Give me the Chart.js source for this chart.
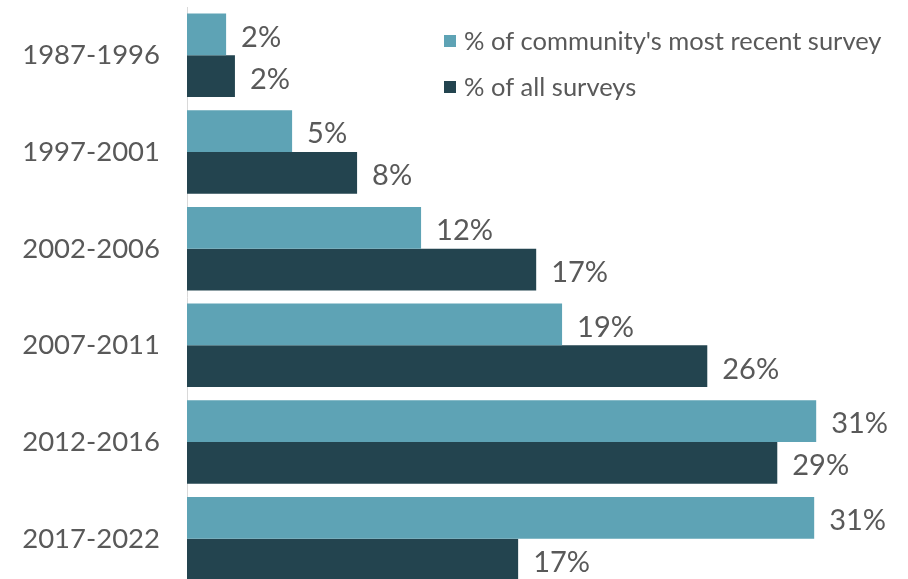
<!DOCTYPE html>
<html>
<head>
<meta charset="utf-8">
<script src="https://cdn.jsdelivr.net/npm/chart.js@4"></script>
<style>
  html, body { margin: 0; padding: 0; background: #ffffff; overflow: hidden; }
  #wrap { position: relative; width: 908px; height: 587px; }
</style>
</head>
<body>
<div id="wrap"><canvas id="c"></canvas></div>
<script>
const categories = ["1987-1996", "1997-2001", "2002-2006", "2007-2011", "2012-2016", "2017-2022"];
const recentSurvey = [1.95, 5.24, 11.67, 18.70, 31.37, 31.27];
const allSurveys = [2.39, 8.48, 17.41, 25.94, 29.43, 16.51];
const seriesNames = ["% of community's most recent survey", "% of all surveys"];
const seriesColors = ["#5ea3b5", "#23444f"];

const textColor = "#595959";
const fontFamily = "Lato, 'Open Sans', sans-serif";

const valueLabels = {
  id: 'valueLabels',
  afterDatasetsDraw(chart) {
    const ctx = chart.ctx;
    ctx.save();
    ctx.font = "29px " + fontFamily;
    ctx.fillStyle = textColor;
    ctx.textAlign = 'left';
    ctx.textBaseline = 'middle';
    chart.data.datasets.forEach((ds, di) => {
      const meta = chart.getDatasetMeta(di);
      meta.data.forEach((bar, i) => {
        ctx.fillText(Math.round(ds.data[i]) + '%', bar.x + 15, bar.y + 3);
      });
    });
    ctx.restore();
  }
};

const innerLegend = {
  id: 'innerLegend',
  afterDraw(chart) {
    const ctx = chart.ctx;
    ctx.save();
    ctx.font = "25.5px " + fontFamily;
    ctx.textAlign = 'left';
    ctx.textBaseline = 'middle';
    const rows = [41, 87];
    chart.data.datasets.forEach((ds, di) => {
      ctx.fillStyle = ds.backgroundColor;
      ctx.fillRect(444, rows[di] - 6, 12, 12);
      ctx.fillStyle = textColor;
      ctx.fillText(ds.label, 464, rows[di] + 1);
    });
    ctx.restore();
  }
};

new Chart(document.getElementById('c'), {
  type: 'bar',
  data: {
    labels: categories,
    datasets: [
      { label: seriesNames[0], data: recentSurvey, backgroundColor: seriesColors[0] },
      { label: seriesNames[1], data: allSurveys, backgroundColor: seriesColors[1] }
    ]
  },
  options: {
    indexAxis: 'y',
    responsive: true,
    maintainAspectRatio: false,
    animation: false,
    layout: { padding: { top: 7, right: 19, bottom: 0, left: 0 } },
    datasets: { bar: { categoryPercentage: 0.864, barPercentage: 1.0 } },
    plugins: { legend: { display: false }, tooltip: { enabled: false } },
    scales: {
      x: { display: false, min: 0, max: 35 },
      y: {
        grid: { display: false, drawTicks: false },
        border: { display: true, color: '#d9d9d9', width: 1 },
        ticks: { color: textColor, font: { family: fontFamily, size: 27.5 }, padding: 27 },
        afterFit(scale) { scale.width = 187; scale.paddingTop = 0; scale.paddingBottom = 0; }
      }
    }
  },
  plugins: [valueLabels, innerLegend]
});
</script>
</body>
</html>
